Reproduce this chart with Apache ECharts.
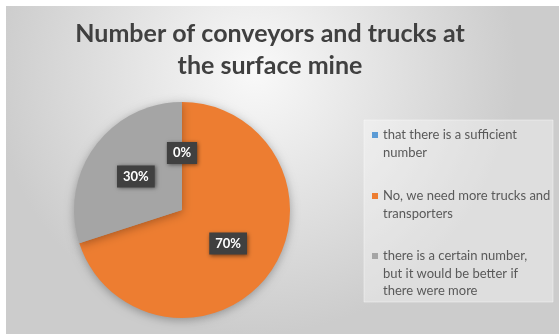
<!DOCTYPE html>
<html><head><meta charset="utf-8">
<script src="https://cdn.jsdelivr.net/npm/echarts@6/dist/echarts.min.js"></script>
<style>html,body{margin:0;padding:0;background:#fff}#c{width:559px;height:334px}</style>
</head><body><div id="c"></div>
<script>
const titleText = 'Number of conveyors and trucks at\nthe surface mine';
const categories = ['that there is a sufficient\nnumber', 'No, we need more trucks and\ntransporters', 'there is a certain number,\nbut it would be better if\nthere were more'];
const values = [0, 70, 30];
const colors = ['#5B9BD5', '#ED7D31', '#A5A5A5'];

const chart = echarts.init(document.getElementById('c'), null, {renderer: 'canvas'});
const FONT = 'Lato';
const LH = 17.5;
const legendIconCenters = [135, 196, 256];
const lineCounts = categories.map(c => c.split('\n').length);
const legends = categories.map((name, i) => {
  const h = LH * lineCounts[i];
  const y0 = LH / 2 - 3;
  return {
    data: [{name: name, icon: 'path://M0,' + y0 + 'h6v6h-6z M0,0h0.01v0.01h-0.01z M0,' + h + 'h0.01v0.01h-0.01z'}],
    orient: 'vertical', left: 372, top: legendIconCenters[i] - LH / 2, padding: 0,
    itemWidth: 6, itemHeight: h, selectedMode: false,
    textStyle: {fontFamily: FONT, fontSize: 13, color: '#595959', lineHeight: LH}
  };
});
chart.setOption({
  animation: false,
  graphic: [
    {type: 'rect', z: -10, shape: {x: 6, y: 6, width: 553, height: 328},
     style: {fill: new echarts.graphic.RadialGradient(0.45, 0.2, 0.8, [
       {offset: 0, color: '#f9f9f9'}, {offset: 1, color: '#cccccc'}])}},
    {type: 'rect', z: -9, shape: {x: 364, y: 120, width: 189, height: 182},
     style: {fill: 'rgba(255,255,255,0.35)', stroke: 'rgba(255,255,255,0.4)', lineWidth: 1}}
  ],
  title: {text: titleText, left: 265, top: 13, textAlign: 'center',
    textStyle: {fontFamily: FONT, fontSize: 25, fontWeight: 'bold', color: '#404040', lineHeight: 32}},
  legend: legends,
  color: colors,
  series: [{
    type: 'pie', center: [182, 210], radius: 108, startAngle: 90, clockwise: true,
    data: categories.map((n, i) => ({name: n, value: values[i]})),
    itemStyle: {shadowBlur: 10, shadowColor: 'rgba(0,0,0,0.3)', shadowOffsetX: 0, shadowOffsetY: 2},
    label: {show: true, position: 'inside', formatter: '{d}%', fontFamily: FONT, fontSize: 13, fontWeight: 'bold',
      color: '#ffffff', backgroundColor: '#404040', padding: [5, 6, 4, 6],
      shadowBlur: 4, shadowColor: 'rgba(0,0,0,0.5)', shadowOffsetX: 1, shadowOffsetY: 1},
    labelLine: {show: false},
    emphasis: {disabled: true}
  }]
});
</script></body></html>
